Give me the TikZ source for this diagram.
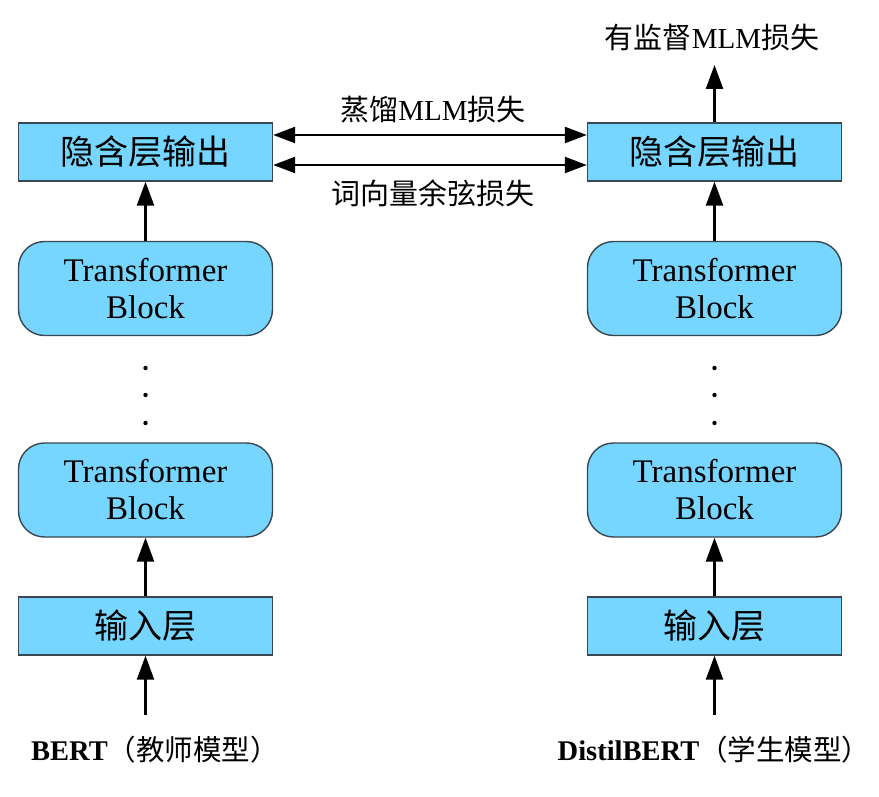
\documentclass[tikz,border=0pt]{standalone}
\usepackage{fontspec}
\setmainfont{Liberation Serif}
\newfontfamily\cjk{Noto Sans CJK SC}
\usetikzlibrary{arrows.meta}
\definecolor{boxfill}{HTML}{76D6FF}
\definecolor{boxline}{HTML}{3A4650}
\begin{document}
\begin{tikzpicture}[x=1pt,y=-1pt,
  sqbox/.style={draw=boxline,line width=1.4pt,fill=boxfill,minimum width=254pt,minimum height=58pt,inner sep=0pt,font=\fontsize{34}{38}\selectfont\cjk},
  rbox/.style={draw=boxline,line width=1.4pt,fill=boxfill,rounded corners=26pt,minimum width=254pt,minimum height=94pt,inner sep=0pt,align=center,font=\fontsize{33}{37}\selectfont},
  arr/.style={line width=2.4pt,-{Triangle[length=24pt,width=17pt]}},
  darr/.style={line width=2.4pt,{Triangle[length=22pt,width=16pt]}-{Triangle[length=22pt,width=16pt]}},
  lbl/.style={inner sep=0pt,font=\fontsize{29}{32}\selectfont},
  blbl/.style={inner sep=0pt,font=\fontsize{28.5}{32}\selectfont}
]
\useasboundingbox (0,0) rectangle (879,797);
% left column
\node[sqbox] (hl) at (145.5,152) {隐含层输出};
\node[rbox] (t1l) at (145.5,288.5) {Transformer\\Block};
\node[rbox] (t2l) at (145.5,490) {Transformer\\Block};
\node[sqbox] (il) at (145.5,626) {输入层};
\node[blbl] (bl) at (155,750) {\textbf{BERT}{\cjk（教师模型）}};
\coordinate (sl) at (145.5,715);
% right column
\node[sqbox] (hr) at (714.5,152) {隐含层输出};
\node[rbox] (t1r) at (714.5,288.5) {Transformer\\Block};
\node[rbox] (t2r) at (714.5,490) {Transformer\\Block};
\node[sqbox] (ir) at (714.5,626) {输入层};
\node[blbl] (br) at (714,750) {\textbf{DistilBERT}{\cjk（学生模型）}};
\coordinate (sr) at (714.5,715);
\node[lbl] (top) at (712,38) {{\cjk 有监督}MLM{\cjk 损失}};
\coordinate (tr) at (714.5,65);
% dots
\foreach \x in {145.5,714.5}{
  \foreach \y in {368,395,423}{
    \fill (\x,\y) circle (2.2pt);
  }
}
% vertical arrows
\draw[arr] (sl) -- (il.south);
\draw[arr] (il.north) -- (t2l.south);
\draw[arr] (t1l.north) -- (hl.south);
\draw[arr] (sr) -- (ir.south);
\draw[arr] (ir.north) -- (t2r.south);
\draw[arr] (t1r.north) -- (hr.south);
\draw[arr] (hr.north) -- (tr);
% horizontal arrows
\draw[darr] ([yshift=-13pt]hl.east) -- ([yshift=-13pt]hr.west);
\draw[darr] ([yshift=17pt]hl.east) -- ([yshift=17pt]hr.west);
\node[lbl] (m1) at (433,110) {{\cjk 蒸馏}MLM{\cjk 损失}};
\node[lbl] (m2) at (433,193) {\cjk 词向量余弦损失};
\end{tikzpicture}
\end{document}
